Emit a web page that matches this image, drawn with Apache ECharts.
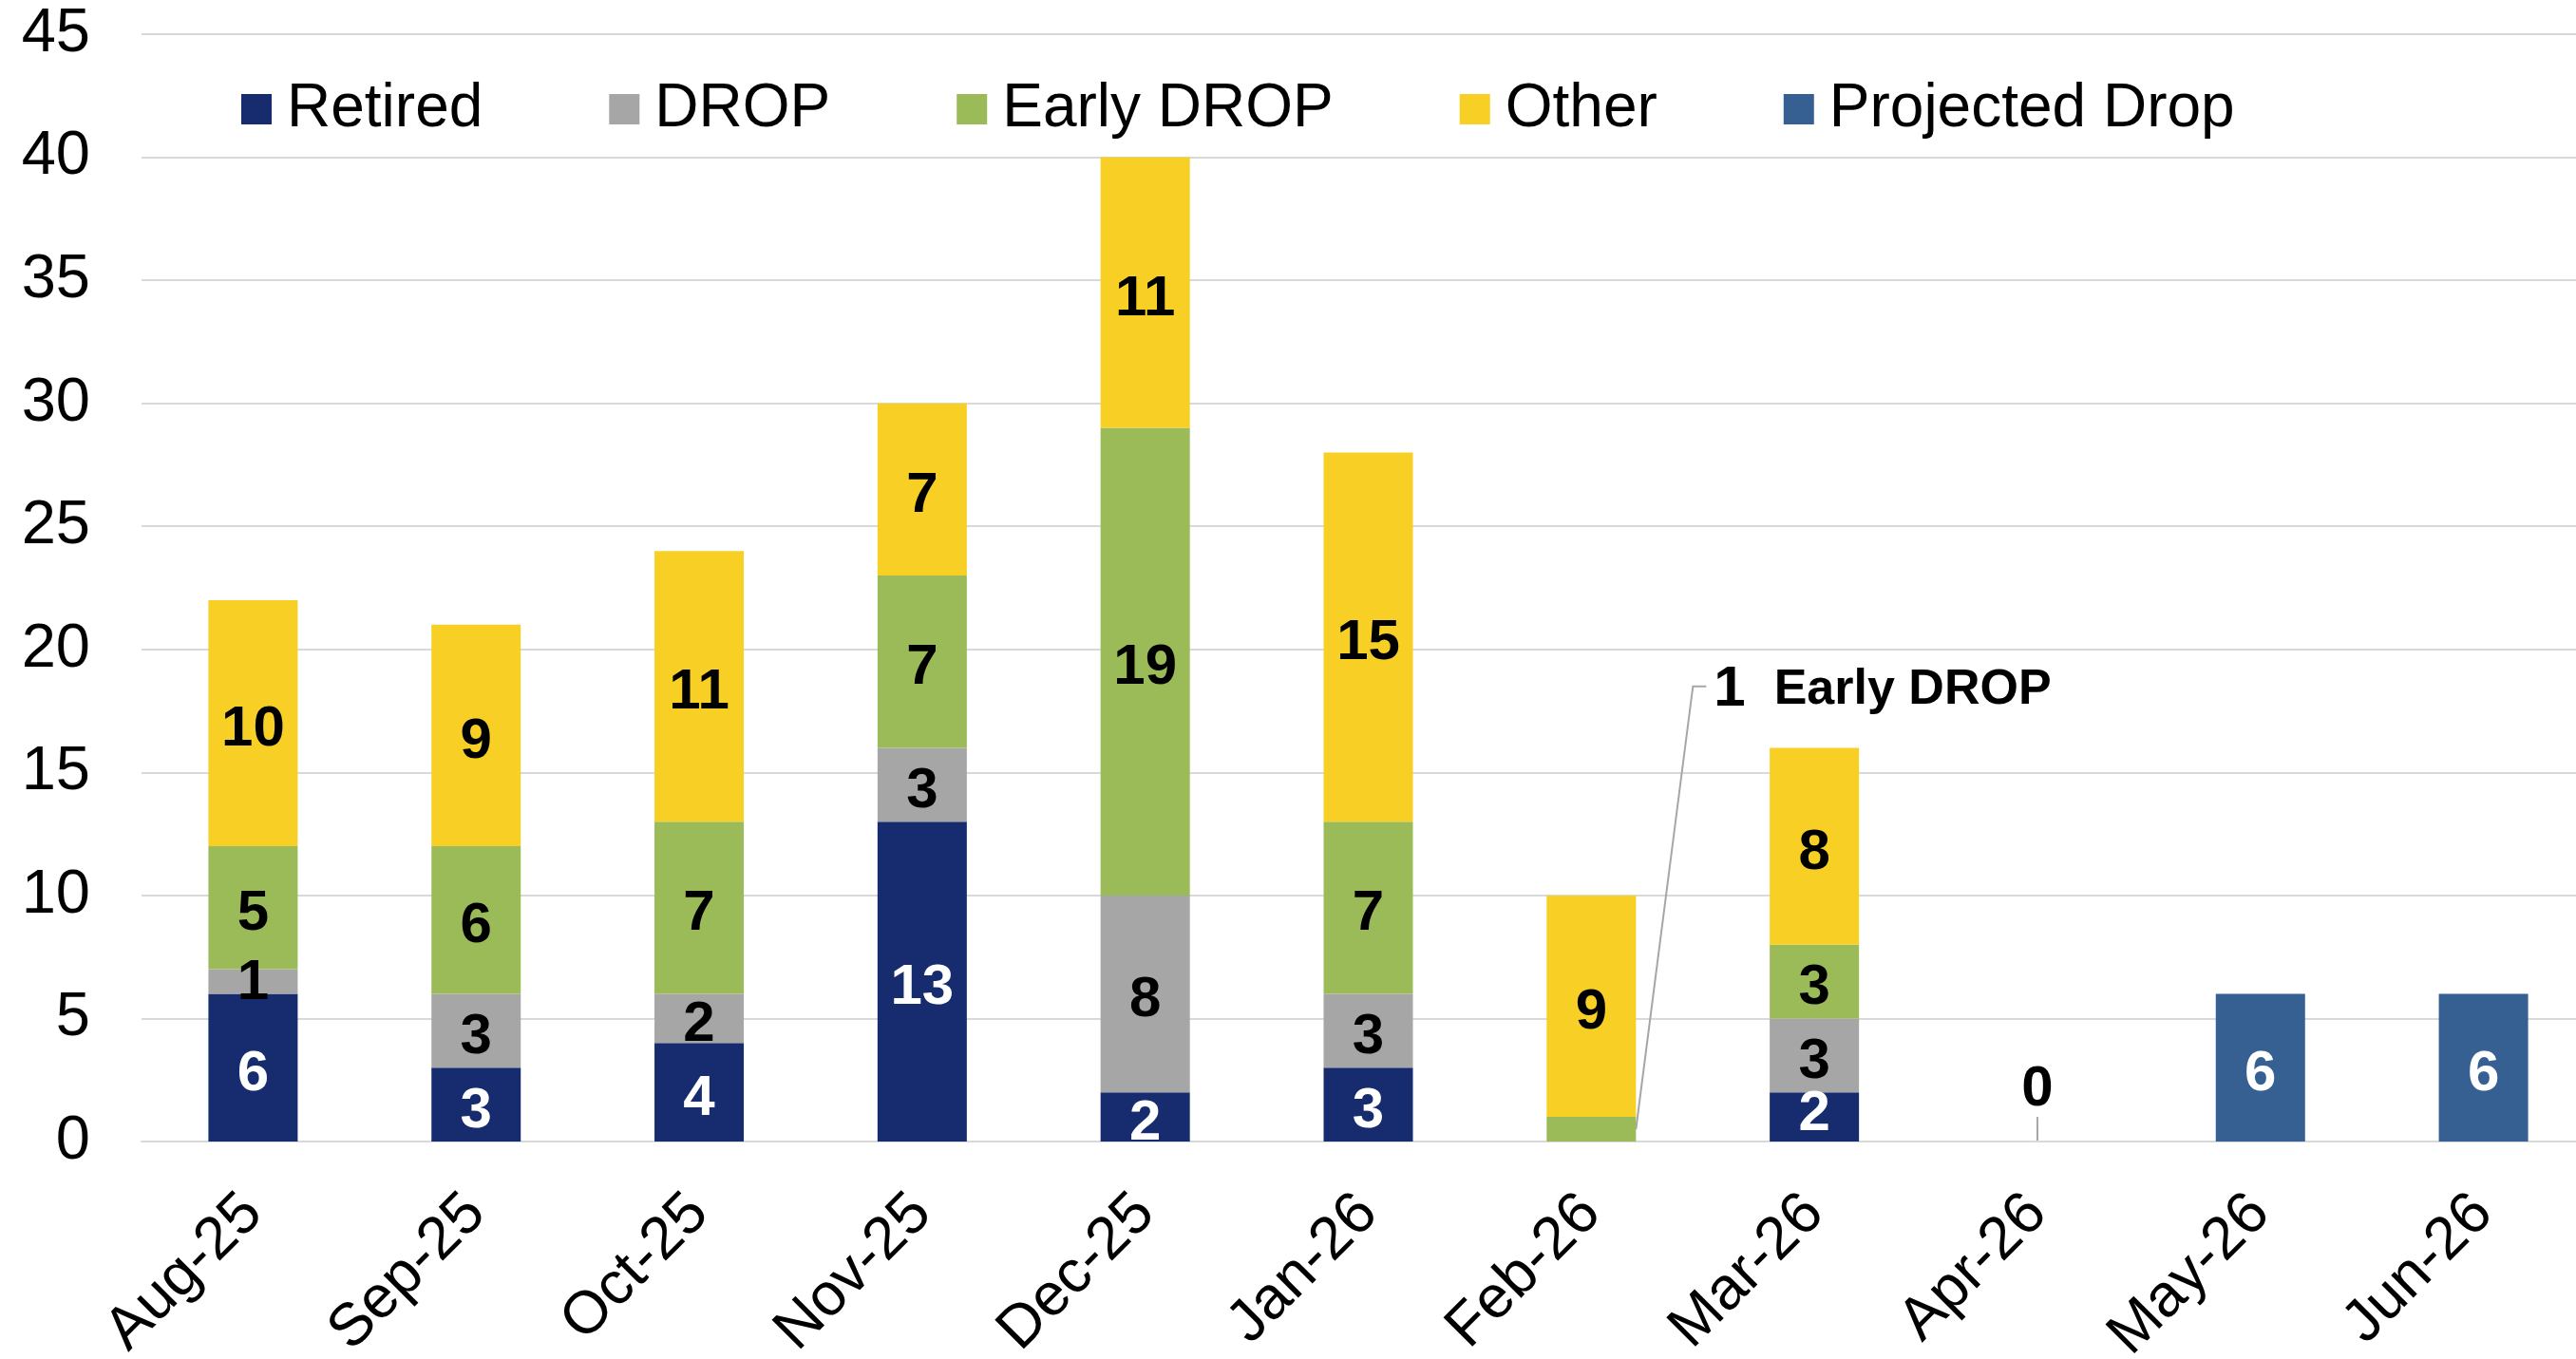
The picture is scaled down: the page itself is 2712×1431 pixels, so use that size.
<!DOCTYPE html>
<html>
<head>
<meta charset="utf-8">
<title>Retirements by month</title>
<script src="https://cdn.jsdelivr.net/npm/echarts@6/dist/echarts.min.js"></script>
<style>
html,body{margin:0;padding:0;background:#fff;}
#wrap{width:2712px;height:1431px;overflow:hidden;position:relative;}
/* plot runs a little past the right edge, as in the original */
#chart{position:absolute;left:0;top:0;width:2732px;height:1431px;}
</style>
</head>
<body>
<div id="wrap"><div id="chart"></div></div>
<script>
// months on the x axis
var months = ['Aug-25','Sep-25','Oct-25','Nov-25','Dec-25','Jan-26','Feb-26','Mar-26','Apr-26','May-26','Jun-26'];
// stacked values per month
var retired   = [6, 3, 4, 13, 2, 3, null, 2, null, null, null];
var drop      = [1, 3, 2, 3, 8, 3, null, 3, null, null, null];
var earlyDrop = [5, 6, 7, 7, 19, 7, 1, 3, null, null, null];
var other     = [10, 9, 11, 7, 11, 15, 9, 8, 0, null, null];
var projected = [null, null, null, null, null, null, null, null, null, 6, 6];

var FONT = "'Liberation Sans', Arial, sans-serif";
var barW = 94;
var chart = echarts.init(document.getElementById('chart'));

function barLabel(color){
	return {
		show: true,
		position: 'inside',
		offset: [0, 7],
		color: color,
		fontFamily: FONT,
		fontWeight: 'bold',
		fontSize: 60
	};
}

// a few labels sit a bit differently
var retiredData = retired.map(function(v, i){
	if(i == 7) return {value: v, label: {offset: [0, -3]}};
	return v;
});
var dropData = drop.map(function(v, i){
	if(i == 0) return {value: v, label: {offset: [0, 2]}};
	return v;
});
// Feb early drop gets its label as a callout, Apr zero sits above the axis
var earlyData = earlyDrop.map(function(v, i){
	if(i == 6) return {value: v, label: {show: false}};
	return v;
});
var otherData = other.map(function(v, i){
	if(i == 8) return {value: v, label: {offset: [0, -55]}};
	return v;
});

var option = {
	animation: false,
	backgroundColor: '#fff',
	legend: {
		left: 254,
		top: 83,
		padding: 0,
		itemGap: 133,
		itemWidth: 32,
		itemHeight: 32,
		icon: 'rect',
		textStyle: {
			fontFamily: FONT,
			fontSize: 64,
			lineHeight: 64,
			color: '#000',
			padding: [0, 0, 0, 11]
		},
		data: ['Retired','DROP','Early DROP','Other','Projected Drop']
	},
	grid: {
		left: 149,
		right: 0,
		top: 36,
		bottom: 229,
		outerBoundsMode: 'none'
	},
	xAxis: {
		type: 'category',
		data: months,
		axisLine: {show: true, lineStyle: {color: '#d9d9d9', width: 2}},
		axisTick: {show: false},
		axisLabel: {
			rotate: 45,
			margin: 66,
			fontFamily: FONT,
			fontSize: 63,
			color: '#000'
		}
	},
	yAxis: {
		type: 'value',
		min: 0,
		max: 45,
		interval: 5,
		axisLine: {show: false},
		axisTick: {show: false},
		splitLine: {lineStyle: {color: '#d9d9d9', width: 2}},
		axisLabel: {
			margin: 54,
			fontFamily: FONT,
			fontSize: 65,
			color: '#000'
		}
	},
	series: [
		{name: 'Retired', type: 'bar', stack: 'all', barWidth: barW, itemStyle: {color: '#172c6e'}, label: barLabel('#fff'), data: retiredData},
		{name: 'DROP', type: 'bar', stack: 'all', barWidth: barW, itemStyle: {color: '#a6a6a6'}, label: barLabel('#000'), data: dropData},
		{name: 'Early DROP', type: 'bar', stack: 'all', barWidth: barW, itemStyle: {color: '#9bbb59'}, label: barLabel('#000'), data: earlyData},
		{name: 'Other', type: 'bar', stack: 'all', barWidth: barW, itemStyle: {color: '#f8cf24'}, label: barLabel('#000'), data: otherData},
		{name: 'Projected Drop', type: 'bar', stack: 'all', barWidth: barW, itemStyle: {color: '#376092'}, label: barLabel('#fff'), data: projected}
	]
};
chart.setOption(option);

// callout lines, placed through the chart's own scales
function drawNotes(){
	var gi = {gridIndex: 0};
	var feb = chart.convertToPixel(gi, [months[6], 0.5]);
	var febTop = chart.convertToPixel(gi, [months[6], 18.5]);
	var x0 = feb[0] + barW / 2;
	var x1 = x0 + 60;
	var x2 = x1 + 14;
	var apr0 = chart.convertToPixel(gi, [months[8], 0]);
	var apr1 = chart.convertToPixel(gi, [months[8], 1]);
	chart.setOption({
		graphic: [
			{type: 'polyline', silent: true, shape: {points: [[x0, feb[1]], [x1, febTop[1]], [x2, febTop[1]]]},
				style: {stroke: '#a6a6a6', lineWidth: 2, fill: null}},
			{type: 'text', silent: true, x: x2 + 8, y: febTop[1] + 4,
				style: {
					text: '{n|' + earlyDrop[6] + '}{t|Early DROP}',
					verticalAlign: 'middle',
					rich: {
						n: {fontFamily: FONT, fontWeight: 'bold', fontSize: 60, fill: '#000'},
						t: {fontFamily: FONT, fontWeight: 'bold', fontSize: 52, fill: '#000', padding: [0, 0, 0, 30]}
					}
				}},
			{type: 'line', silent: true, shape: {x1: apr0[0], y1: apr0[1], x2: apr1[0], y2: apr1[1]},
				style: {stroke: '#a6a6a6', lineWidth: 2}}
		]
	});
}
drawNotes();

window.onresize = function(){
	chart.resize();
	drawNotes();
};
</script>
</body>
</html>
